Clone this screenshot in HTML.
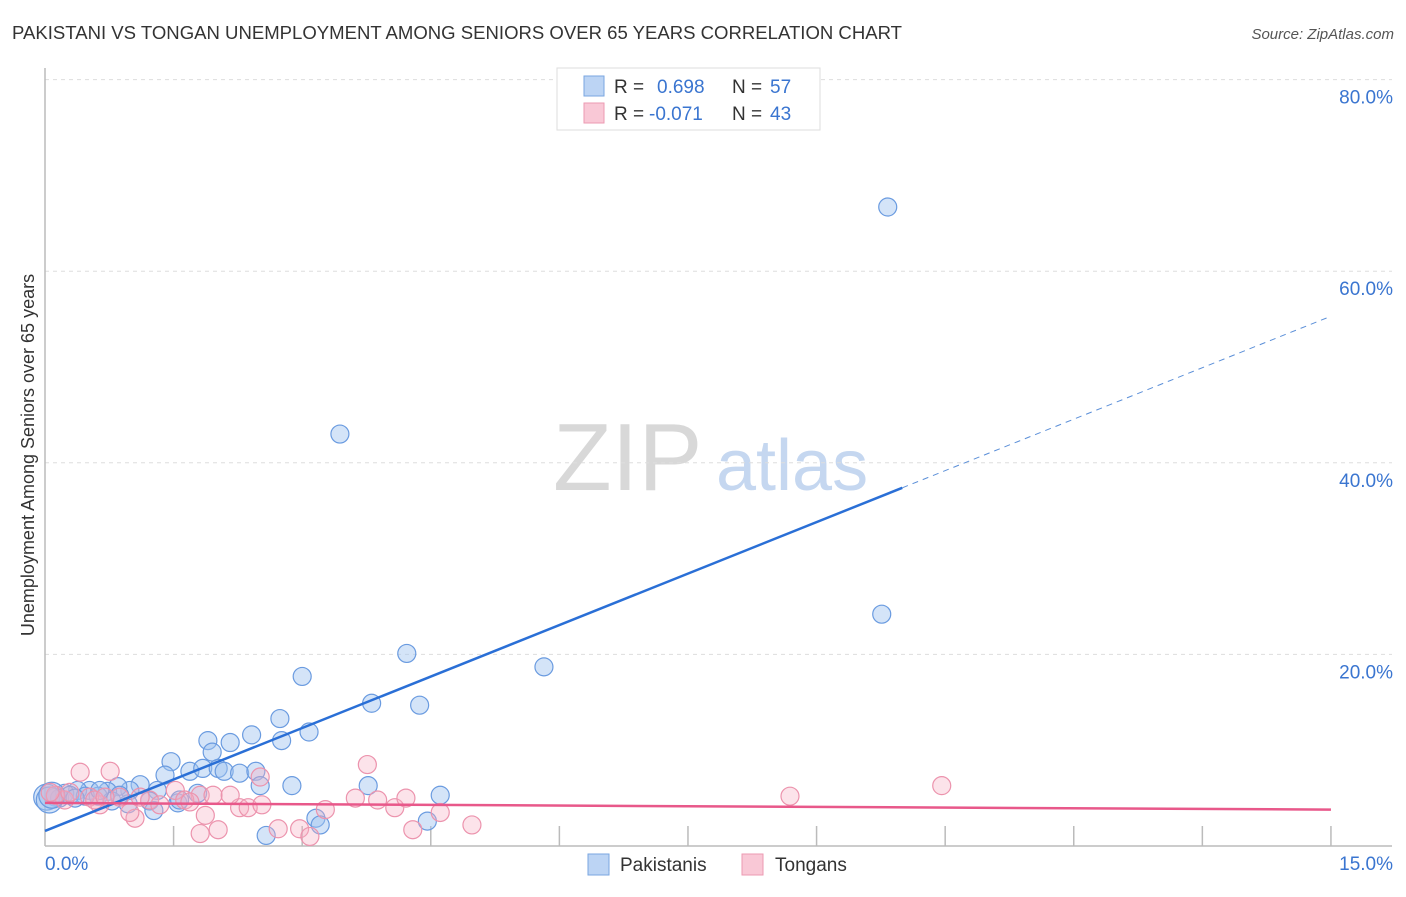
<!DOCTYPE html>
<html><head><meta charset="utf-8"><style>
body{margin:0;background:#fff;font-family:"Liberation Sans",sans-serif}
svg text{font-family:"Liberation Sans",sans-serif}
</style></head><body>
<svg id="c" width="1406" height="892">
<text x="12" y="39" font-size="18" fill="#333" textLength="890" lengthAdjust="spacingAndGlyphs">PAKISTANI VS TONGAN UNEMPLOYMENT AMONG SENIORS OVER 65 YEARS CORRELATION CHART</text>
<text x="1394" y="39" font-size="15" fill="#555" font-style="italic" text-anchor="end">Source: ZipAtlas.com</text>
<text transform="translate(34,455) rotate(-90)" font-size="18" fill="#333" text-anchor="middle">Unemployment Among Seniors over 65 years</text>
<g>
<text x="553" y="490" font-size="96" fill="#d8d8d8" font-family="Liberation Serif, serif">ZIP</text>
<text x="716" y="490" font-size="72" fill="#c5d7f0">atlas</text>
</g>
<g id="grid"></g><g id="axes"></g><g id="pts"></g><g id="lines"></g>
<g>
<rect x="557" y="68" width="263" height="62" fill="#fff" stroke="#ddd"/>
<rect x="584" y="76" width="20" height="20" fill="#bcd4f4" stroke="#7aa6e0"/>
<text x="614" y="93" font-size="19" fill="#333">R = </text><text x="657" y="93" font-size="19" fill="#3a75d0">0.698</text>
<text x="732" y="93" font-size="19" fill="#333">N = </text><text x="770" y="93" font-size="19" fill="#3a75d0">57</text>
<rect x="584" y="103" width="20" height="20" fill="#f9c8d6" stroke="#ec9ab2"/>
<text x="614" y="120" font-size="19" fill="#333">R = </text><text x="649" y="120" font-size="19" fill="#3a75d0">-0.071</text>
<text x="732" y="120" font-size="19" fill="#333">N = </text><text x="770" y="120" font-size="19" fill="#3a75d0">43</text>
</g>
<g><rect x="588" y="854" width="21" height="21" fill="#bcd4f4" stroke="#7aa6e0"/><text x="620" y="871" font-size="19" fill="#333">Pakistanis</text></g>
<g><rect x="742" y="854" width="21" height="21" fill="#f9c8d6" stroke="#ec9ab2"/><text x="775" y="871" font-size="19" fill="#333">Tongans</text></g>
</svg>
<script>
const yTicks=[20,40,60,80];
const xTickLabels=["0.0%","15.0%"];
const blueX=[9.83,3.44,9.76,4.22,5.82,3.00,3.81,4.37,2.74,3.08,2.41,1.90,2.16,2.76,1.47,1.95,1.40,1.69,1.84,2.02,2.09,2.27,2.46,1.11,1.31,0.99,0.85,0.73,0.52,0.38,0.23,0.12,0.62,0.78,1.22,1.55,1.78,0.97,1.27,2.51,2.88,3.77,4.61,3.16,3.21,2.58,4.46,0.17,0.29,0.47,0.64,1.57,0.35,0.87,0.02,0.05,0.08];
const blueY=[66.7,43.0,24.2,20.1,18.7,17.7,14.9,14.7,13.3,11.9,11.6,11.0,10.8,11.0,8.8,9.8,7.4,7.8,8.1,8.1,7.8,7.6,7.8,6.4,5.8,5.8,6.2,5.7,5.8,5.8,5.5,5.1,5.2,4.7,4.7,4.5,5.5,4.4,3.7,6.3,6.3,6.3,5.3,2.9,2.2,1.1,2.6,5.0,5.3,5.2,5.8,4.8,5.0,5.3,5.1,4.8,5.3];
const pinkX=[0.41,0.76,2.51,3.76,10.46,8.69,1.81,1.96,2.27,2.37,2.53,3.27,3.62,3.88,4.08,4.21,4.61,4.98,4.29,2.97,3.09,2.72,2.02,1.81,1.87,1.05,0.99,0.64,1.22,1.34,1.52,1.63,0.23,0.52,0.12,0.87,1.11,1.69,2.16,0.58,0.29,0.70,0.06];
const pinkY=[7.7,7.8,7.2,8.5,6.3,5.2,5.3,5.3,4.0,4.0,4.3,3.8,5.0,4.8,4.0,5.0,3.5,2.2,1.7,1.8,1.0,1.8,1.7,1.3,3.2,2.9,3.5,4.3,4.8,4.3,5.8,4.8,4.8,5.1,5.3,5.1,5.1,4.6,5.3,4.8,5.6,5.1,5.6];
const blueFit=[1.57,55.3], pinkFit=[4.5,3.8];
const X=v=>45+v*85.73, Y=v=>846-v*9.58;
const NS="http://www.w3.org/2000/svg";
function mk(t,a,p){const e=document.createElementNS(NS,t);for(const k in a)e.setAttribute(k,a[k]);p.appendChild(e);return e;}
const grid=document.getElementById('grid'),axes=document.getElementById('axes'),pts=document.getElementById('pts'),lines=document.getElementById('lines');
yTicks.forEach(t=>{
 const l=mk('line',{x1:45,x2:1392,y1:Y(t),y2:Y(t),stroke:'#ddd','stroke-dasharray':'4,4'},grid);
 
 
 const tx=mk('text',{x:1393,y:Y(t)+24,'font-size':19,fill:'#3a75d0','text-anchor':'end'},grid);tx.textContent=t.toFixed(1)+'%';
 
 
});
mk('line',{x1:45,x2:45,y1:68,y2:846,stroke:'#bbb','stroke-width':1.5},axes);
mk('line',{x1:45,x2:1392,y1:846,y2:846,stroke:'#bbb','stroke-width':1.5},axes);
for(let i=1;i<=10;i++){const t=mk('line',{x1:X(i*1.5),x2:X(i*1.5),y1:826,y2:846,stroke:'#bbb','stroke-width':1.5},axes);
 
 }
const x0=mk('text',{x:45,y:870,'font-size':19,fill:'#3a75d0'},axes);x0.textContent=xTickLabels[0];


const x1=mk('text',{x:1393,y:870,'font-size':19,fill:'#3a75d0','text-anchor':'end'},axes);x1.textContent=xTickLabels[1];


blueX.forEach((v,i)=>{const c=mk('circle',{cx:X(v),cy:Y(blueY[i]),r:i>=54?13:9,fill:'rgba(160,196,240,0.45)',stroke:'#6a9be0','stroke-width':1.2},pts);
 
 });
pinkX.forEach((v,i)=>{const c=mk('circle',{cx:X(v),cy:Y(pinkY[i]),r:9,fill:'rgba(245,175,195,0.35)',stroke:'#ec93ad','stroke-width':1.2},pts);
 
 });
const bAt=x=>blueFit[0]+(blueFit[1]-blueFit[0])*x/15;
const bl=mk('line',{x1:X(0),y1:Y(bAt(0)),x2:X(10),y2:Y(bAt(10)),stroke:'#2a6fd6','stroke-width':2.5},lines);


const bd=mk('line',{x1:X(10),y1:Y(bAt(10)),x2:X(15),y2:Y(bAt(15)),stroke:'#5b8fd8','stroke-width':1,'stroke-dasharray':'6,5'},lines);


const pl=mk('line',{x1:X(0),y1:Y(pinkFit[0]),x2:X(15),y2:Y(pinkFit[1]),stroke:'#e8588a','stroke-width':2.5},lines);


</script>
</body></html>
